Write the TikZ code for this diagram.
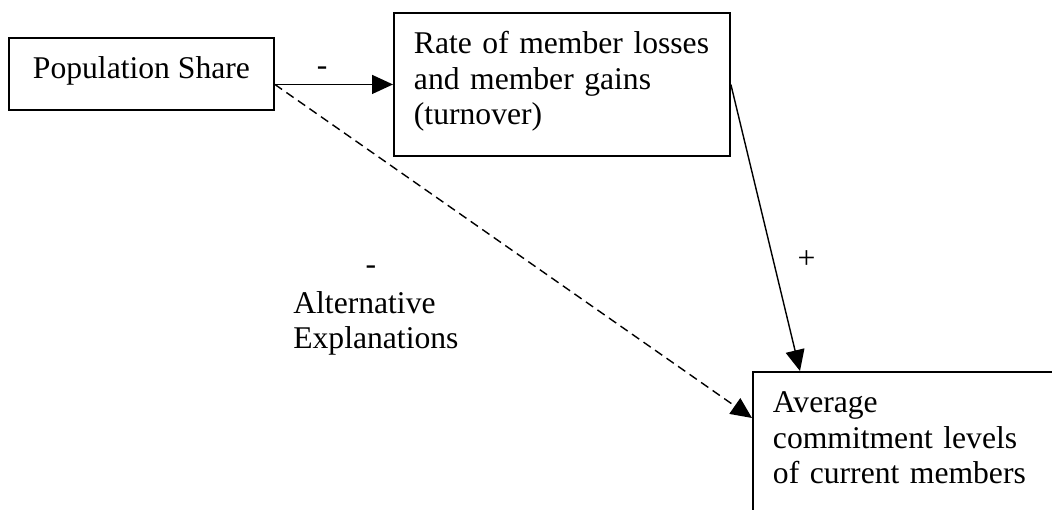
\documentclass[tikz,border=0pt]{standalone}
\usepackage{fontspec}
\setmainfont{Liberation Serif}
\usetikzlibrary{arrows.meta}

\begin{document}
\begin{tikzpicture}[x=0.02cm,y=-0.02cm,
  box/.style={draw,line width=1.1pt,anchor=north west,inner xsep=0.4cm,inner ysep=0pt,font=\fontsize{18}{20.2}\selectfont},
  sign/.style={inner sep=0pt,font=\fontsize{18}{20.2}\selectfont},
  arr/.style={line width=0.8pt,-{Triangle[length=0.42cm,width=0.38cm]}}]
\path[use as bounding box,clip] (0,0) rectangle (1052,510);
\node[box,minimum width=5.3cm,text height=0.82cm,text depth=0.62cm] (pop) at (8,37) {Population Share};
\node[box,text width=5.92cm,align=left,text height=0.82cm,text depth=2.04cm] (rate) at (393,12) {Rate of member losses\\and member gains\\(turnover)};
\node[box,text width=6cm,align=left,text height=0.82cm,text depth=4cm] (avg) at (752,371) {Average\\commitment levels\\of current members};
\node[sign,anchor=base west,text width=4cm,align=left] (alt) at (293,313) {Alternative\\Explanations};
\node[sign] (minus) at (371,270) {-};
\draw[arr] (pop.east |- rate.west) -- node[sign,pos=0.4,above=0.17cm] (minustop) {-} (rate.west);
\draw[arr,dash pattern=on 5pt off 3pt] (pop.east |- rate.west) -- ([yshift=-0.94cm]avg.north west);
\draw[arr] (rate.east) -- node[sign,pos=0.61,right=0.48cm] (plus) {+} ([xshift=0.96cm]avg.north west);
\end{tikzpicture}
\end{document}
